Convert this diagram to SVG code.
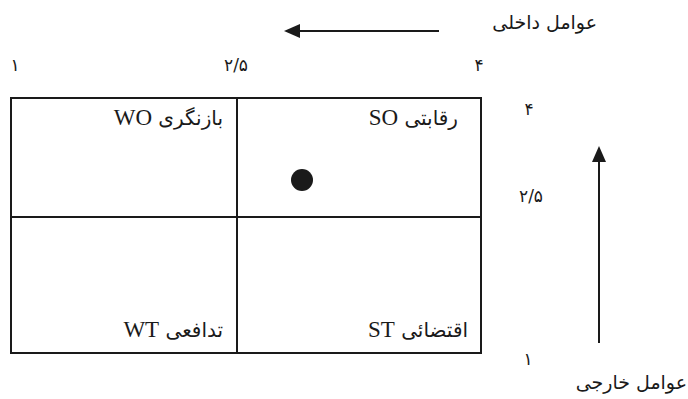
<svg xmlns="http://www.w3.org/2000/svg" width="688" height="399" viewBox="0 0 688 399">
<style>
.q{fill:none;stroke:#1a1a1a;stroke-width:2}
.lbl{font-family:"DejaVu Sans",serif;font-size:20px;fill:#1a1a1a}
.lat{font-family:"Liberation Serif",serif;font-size:23px}
.ax{font-family:"DejaVu Sans",serif;font-size:19px;fill:#1a1a1a}
.num{font-family:"DejaVu Sans","Noto Sans",sans-serif;font-size:17px;fill:#1a1a1a}
.conn{stroke:#1a1a1a;stroke-width:2;fill:none}
</style>
<defs>
<marker id="ah" viewBox="0 0 16 14" refX="0" refY="7" markerWidth="16" markerHeight="14" markerUnits="userSpaceOnUse" orient="auto">
<path d="M16,7 L0,0 L0,14 Z" fill="#1a1a1a"/>
</marker>
</defs>
<rect width="688" height="399" fill="#ffffff"/>
<g id="quadrant-SO">
<rect class="q" x="237" y="98" width="244" height="119"/>
<text class="lbl" x="458" y="125" direction="rtl" text-anchor="start">رقابتی <tspan class="lat">SO</tspan></text>
<circle cx="302" cy="180" r="11" fill="#1a1a1a"/>
</g>
<g id="quadrant-WO">
<rect class="q" x="11" y="98" width="226" height="119"/>
<text class="lbl" x="223" y="125" direction="rtl" text-anchor="start">بازنگری <tspan class="lat">WO</tspan></text>
</g>
<g id="quadrant-ST">
<rect class="q" x="237" y="217" width="244" height="136"/>
<text class="lbl" x="468" y="337" direction="rtl" text-anchor="start">اقتضائی <tspan class="lat">ST</tspan></text>
</g>
<g id="quadrant-WT">
<rect class="q" x="11" y="217" width="226" height="136"/>
<text class="lbl" x="223" y="337" direction="rtl" text-anchor="start">تدافعی <tspan class="lat">WT</tspan></text>
</g>
<g id="axis-internal">
<text class="ax" x="597" y="29" direction="rtl" text-anchor="start">عوامل داخلی</text>
<text class="num" x="15" y="71" text-anchor="middle">۱</text>
<text class="num" x="236" y="71" text-anchor="middle">۲/۵</text>
<text class="num" x="479" y="71" text-anchor="middle">۴</text>
</g>
<g id="axis-external">
<text class="ax" x="687" y="389" direction="rtl" text-anchor="start">عوامل خارجی</text>
<text class="num" x="529" y="115" text-anchor="middle">۴</text>
<text class="num" x="531" y="202" text-anchor="middle">۲/۵</text>
<text class="num" x="528" y="365" text-anchor="middle">۱</text>
</g>
<g id="connectors">
<line class="conn" x1="439" y1="31" x2="300" y2="31" marker-end="url(#ah)"/>
<line class="conn" x1="599" y1="343" x2="599" y2="162" marker-end="url(#ah)"/>
</g>
</svg>
